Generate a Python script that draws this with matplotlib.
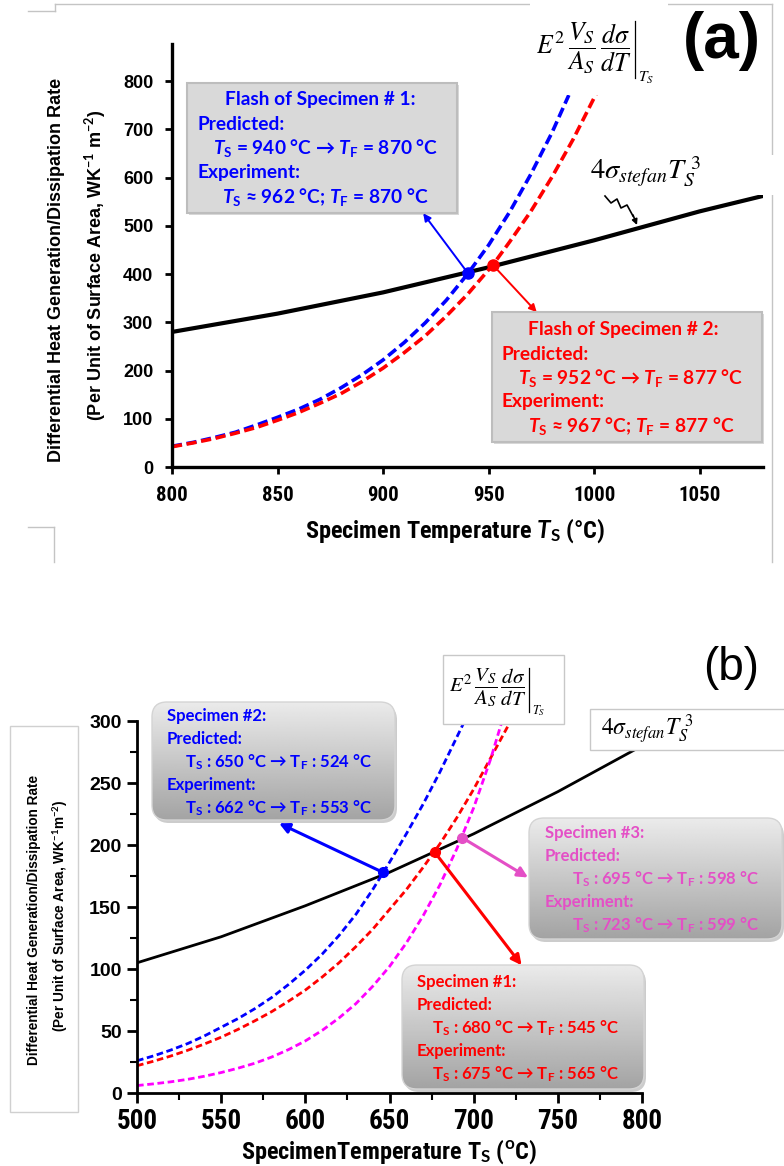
import numpy as np
import matplotlib
matplotlib.use("Agg")
import matplotlib.pyplot as plt
from matplotlib import font_manager as fm
from matplotlib.patches import FancyBboxPatch, Rectangle

# ---- panel (a) data: specimen temperature (C) vs W K^-1 m^-2 ----
T_A_RAD = [800, 850, 900, 950, 1000, 1050, 1080]
V_A_RAD = [280, 318, 362, 414, 470, 530, 562]
T_A_S1 = [800, 810, 820, 830, 840, 850, 860, 870, 880, 890, 900, 910, 920,
          930, 940, 950, 960, 970, 980, 988]
V_A_S1 = [43, 51, 61, 72, 87, 103, 120, 140, 164, 191, 222, 258, 299,
          346, 400, 460, 529, 607, 693, 771]
T_A_S2 = [800, 810, 820, 830, 840, 850, 860, 870, 880, 890, 900, 910, 920,
          930, 940, 952, 960, 970, 980, 990, 1001]
V_A_S2 = [42, 50, 59, 70, 82, 97, 113, 132, 152, 177, 205, 237, 272,
          313, 358, 419, 467, 530, 601, 679, 774]
FLASH_A_T = [940, 952]
FLASH_A_V = [403, 419]

# ---- panel (b) data ----
T_B_RAD = [500, 550, 600, 650, 700, 750, 800]
V_B_RAD = [105, 126, 151, 178, 209, 243, 280]
T_B_S2 = [500, 510, 520, 530, 540, 550, 560, 570, 580, 590, 600, 610, 620,
          630, 640, 650, 660, 670, 680, 690, 700]
V_B_S2 = [26, 30, 34.6, 39.8, 46, 53, 60, 68, 77, 87.5, 99, 112, 127,
          144, 164, 186, 209, 233, 259, 287, 315]
T_B_S1 = [500, 510, 520, 530, 540, 550, 560, 570, 580, 590, 600, 610, 620,
          630, 640, 650, 660, 670, 680, 690, 700, 710, 720, 725]
V_B_S1 = [22, 25.7, 29.8, 34.4, 39.5, 45, 51.3, 58.2, 65.6, 74, 83, 93.5, 105,
          118, 132, 148, 164, 182, 201, 222, 245, 270, 295, 308]
T_B_S3 = [500, 510, 520, 530, 540, 550, 560, 570, 580, 590, 600, 610, 620,
          630, 640, 650, 660, 670, 680, 690, 700, 710, 720]
V_B_S3 = [6, 7.4, 9, 11, 13.5, 16.5, 20, 24, 29, 35, 42, 50.5, 60.5,
          72, 86, 102, 121, 143, 168, 197, 230, 269, 314]
FLASH_B_T = [646, 677, 693]
FLASH_B_V = [178, 194, 206]

BLUE, RED, PINK, MAG = "#0000ff", "#ff0000", "#e44fc6", "#ff00ff"
BOXFONT = ["Lato", "DejaVu Sans"]

plt.rcParams["mathtext.fontset"] = "custom"
plt.rcParams["mathtext.rm"] = "Lato:bold"
plt.rcParams["mathtext.it"] = "Lato:bold:italic"
plt.rcParams["mathtext.bf"] = "Lato:bold"


def narrow_font(size):
    # pick a condensed bold sans if one is installed
    cands = [f for f in fm.fontManager.ttflist
             if f.style == "normal" and f.weight in ("bold", 700)
             and ("Narrow" in f.name or "Condensed" in f.name
                  or str(f.stretch) in ("condensed", "semi-condensed", "extra-condensed"))]
    order = ["Liberation", "Arial", "Roboto", "Open Sans", "Noto Sans", "DejaVu"]
    cands.sort(key=lambda f: next((i for i, k in enumerate(order) if k in f.name), 99))
    if cands:
        return fm.FontProperties(fname=cands[0].fname, size=size)
    return fm.FontProperties(family="Liberation Sans", weight="bold", size=size)


W, H = 784, 1166
fig = plt.figure(figsize=(W / 100, H / 100), dpi=100)


def px_axes(x0, y0, x1, y1):
    return fig.add_axes([x0 / W, 1 - y1 / H, (x1 - x0) / W, (y1 - y0) / H])


# ================= panel (a) =================
ax1 = px_axes(172, 44, 763, 467)
ax1.plot(T_A_RAD, V_A_RAD, color="black", lw=3)
ax1.plot(T_A_S1, V_A_S1, color=BLUE, lw=2.6, dashes=(2.8, 1.3))
ax1.plot(T_A_S2, V_A_S2, color=RED, lw=2.6, dashes=(2.8, 1.3))
ax1.plot(FLASH_A_T[0], FLASH_A_V[0], "o", color=BLUE, ms=8, zorder=5)
ax1.plot(FLASH_A_T[1], FLASH_A_V[1], "o", color=RED, ms=8, zorder=5)
ax1.annotate("", xy=(919, 526), xytext=(FLASH_A_T[0], FLASH_A_V[0]),
             arrowprops=dict(arrowstyle="-|>", color=BLUE, lw=1.4,
                             mutation_scale=11, shrinkA=0, shrinkB=0))
ax1.annotate("", xy=(972.8, 321), xytext=(FLASH_A_T[1], FLASH_A_V[1]),
             arrowprops=dict(arrowstyle="-|>", color=RED, lw=1.4,
                             mutation_scale=11, shrinkA=0, shrinkB=0))
ax1.set_xlim(800, 1080)
ax1.set_ylim(0, 877)
for s in ("top", "right"):
    ax1.spines[s].set_visible(False)
for s in ("left", "bottom"):
    ax1.spines[s].set_linewidth(2.4)
ax1.set_yticks(range(0, 801, 100), labels=[str(v) for v in range(0, 801, 100)],
               fontfamily="Liberation Sans", fontweight="bold", fontsize=13)
ax1.set_xticks(range(800, 1051, 50), labels=[str(v) for v in range(800, 1051, 50)],
               fontproperties=narrow_font(15))
ax1.tick_params(direction="out", length=5, width=2, pad=8.5)

# ================= panel (b) =================
ax2 = px_axes(137, 721, 642, 1093)
ax2.plot(T_B_RAD, V_B_RAD, color="black", lw=2)
ax2.plot(T_B_S2, V_B_S2, color=BLUE, lw=2, dashes=(2.4, 1.3))
ax2.plot(T_B_S1, V_B_S1, color=RED, lw=2, dashes=(2.4, 1.3))
ax2.plot(T_B_S3, V_B_S3, color=MAG, lw=2, dashes=(2.4, 1.3))
for t, v, c in zip(FLASH_B_T, FLASH_B_V, [BLUE, RED, PINK]):
    ax2.plot(t, v, "o", color=c, ms=7, zorder=5)
arrow_b = dict(arrowstyle="-|>", lw=2.2, mutation_scale=15, shrinkA=0, shrinkB=0)
ax2.annotate("", xy=(584.4, 217.5), xytext=(FLASH_B_T[0], FLASH_B_V[0]),
             arrowprops=dict(color=BLUE, **arrow_b))
ax2.annotate("", xy=(728.5, 103), xytext=(FLASH_B_T[1], FLASH_B_V[1]),
             arrowprops=dict(color=RED, **arrow_b))
ax2.annotate("", xy=(732.3, 173.8), xytext=(FLASH_B_T[2], FLASH_B_V[2]),
             arrowprops=dict(color=PINK, **arrow_b))
ax2.set_xlim(500, 800)
ax2.set_ylim(0, 300)
for s in ("top", "right"):
    ax2.spines[s].set_visible(False)
for s in ("left", "bottom"):
    ax2.spines[s].set_linewidth(2)
ax2.set_yticks(range(0, 301, 50), labels=[str(v) for v in range(0, 301, 50)],
               fontfamily="Liberation Sans", fontweight="bold", fontsize=14)
ax2.set_xticks(range(500, 801, 50), labels=[str(v) for v in range(500, 801, 50)],
               fontproperties=narrow_font(19.5))
ax2.set_yticks(range(25, 300, 50), minor=True)
ax2.set_xticks(range(525, 800, 50), minor=True)
ax2.tick_params(which="major", direction="out", length=7, width=2, pad=4)
ax2.tick_params(which="minor", direction="out", length=5, width=1.5)

# ================= overlay in pixel coordinates =================
ov = fig.add_axes([0, 0, 1, 1])
ov.set_zorder(10)
ov.patch.set_alpha(0)
ov.axis("off")
ov.set_autoscale_on(False)
ov.set_xlim(0, W)
ov.set_ylim(H, 0)
renderer = fig.canvas.get_renderer()

# faint page frame around (a)
fc = "#c4c4c4"
for xs, ys in [([55, 772], [3.5, 3.5]), ([772, 772], [3.5, 562]),
               ([28, 55], [11, 11]), ([55, 55], [3.5, 11]),
               ([28, 54], [527, 527]), ([54, 54], [527, 562])]:
    ov.plot(xs, ys, color=fc, lw=1, zorder=1)


def flat_box(x0, y0, x1, y1):
    ov.add_patch(Rectangle((x0 + 2, y0 + 2), x1 - x0, y1 - y0, fc="#000000",
                           alpha=0.15, ec="none", zorder=2))
    ov.add_patch(Rectangle((x0, y0), x1 - x0, y1 - y0, fc="#d9d9d9",
                           ec="#bdbdbd", lw=1.5, zorder=3))


def grad_box(x0, y0, x1, y1, r=15):
    w, h = x1 - x0, y1 - y0
    style = f"round,pad=0,rounding_size={r}"
    ov.add_patch(FancyBboxPatch((x0 + 2, y0 + 3), w, h, boxstyle=style,
                                fc="#000000", alpha=0.2, ec="none", zorder=2))
    box = FancyBboxPatch((x0, y0), w, h, boxstyle=style, fc="none",
                         ec="#d4d4d4", lw=1, zorder=4)
    ov.add_patch(box)
    grad = np.linspace(0.92, 0.64, 120).reshape(-1, 1)
    im = ov.imshow(grad, cmap="gray", vmin=0, vmax=1, aspect="auto",
                   extent=[x0, x1, y1, y0], zorder=3, interpolation="bilinear")
    im.set_clip_path(box)


def box_lines(lines, xs, y0, dy, color, size):
    for i, (s, x) in enumerate(zip(lines, xs)):
        ov.text(x, y0 + i * dy, s, color=color, fontsize=size, fontweight="bold",
                family=BOXFONT, ha="left", va="center", zorder=6)


def formula(x, y, size):
    # E^2 (V/A) dsigma/dT |_Ts, with a thin evaluation bar
    t = ov.text(x, y, r"$E^2\,\dfrac{V_S}{A_S}\,\dfrac{d\sigma}{dT}$",
                math_fontfamily="stix", fontsize=size, ha="left", va="center",
                zorder=6)
    bb = t.get_window_extent(renderer)
    xb, top, bot = bb.x1 + size * 0.2, H - bb.y1, H - bb.y0
    ov.plot([xb, xb], [top + 1, bot + size * 0.15], color="black", lw=0.9,
            zorder=6)
    ov.text(xb + size * 0.15, bot + size * 0.1, r"$T_S$", math_fontfamily="stix",
            fontsize=size * 0.6, ha="left", va="center", zorder=6)


STEFAN = r"$4\sigma_{stefan}T_S^{\ 3}$"

# (a) boxes
flat_box(187, 83, 457, 213)
box_lines(["Flash of Specimen # 1:", "Predicted:",
           r"$T_{\rm S}$ = 940 °C → $T_{\rm F}$ = 870 °C", "Experiment:",
           r"$T_{\rm S}$ ≈ 962 °C; $T_{\rm F}$ = 870 °C"],
          [225, 198, 213, 198, 222], 100, 24.2, BLUE, 13.8)
flat_box(492, 312, 762, 442)
box_lines(["Flash of Specimen # 2:", "Predicted:",
           r"$T_{\rm S}$ = 952 °C → $T_{\rm F}$ = 877 °C", "Experiment:",
           r"$T_{\rm S}$ ≈ 967 °C; $T_{\rm F}$ = 877 °C"],
          [528, 502, 518, 502, 528], 330, 24, RED, 13.8)

# (a) formula labels
ov.add_patch(Rectangle((530, 0), 138, 95, fc="white", ec="none", zorder=2))
formula(536, 48, 18.5)
ov.add_patch(Rectangle((585, 155), 199, 40, fc="white", ec="none", zorder=2))
ov.text(590, 172, STEFAN, math_fontfamily="stix", fontsize=20.5,
        ha="left", va="center", zorder=6)
ov.plot([605, 611, 617, 621, 627, 633], [196, 203, 199, 208, 205, 216],
        color="black", lw=1.2, zorder=6)
ov.annotate("", xy=(637, 225), xytext=(633, 215),
            arrowprops=dict(arrowstyle="-|>", color="black", lw=1.2,
                            mutation_scale=8, shrinkA=0, shrinkB=0), zorder=6)
ov.text(722, 41, "(a)", fontsize=46, fontweight="bold", family="Liberation Sans",
        ha="center", va="center", zorder=6)

# (a) axis labels
ov.text(57, 270, "Differential Heat Generation/Dissipation Rate", rotation=90,
        fontsize=13, fontweight="bold", family="Liberation Sans",
        ha="center", va="center", zorder=6)
ov.text(95, 265, r"(Per Unit of Surface Area, WK$^{-1}$ m$^{-2}$)", rotation=90,
        fontsize=13, fontweight="bold", family="Liberation Sans",
        ha="center", va="center", zorder=6)
ov.text(455, 531, r"Specimen Temperature $T_{\rm S}$ (°C)",
        fontproperties=narrow_font(17.5), ha="center", va="center", zorder=6)

# (b) boxes
grad_box(152, 702, 395, 820)
box_lines(["Specimen #2:", "Predicted:",
           r"T$_{\rm S}$ : 650 °C → T$_{\rm F}$ : 524 °C", "Experiment:",
           r"T$_{\rm S}$ : 662 °C → T$_{\rm F}$ : 553 °C"],
          [167, 167, 185, 167, 185], 716, 23.1, BLUE, 12)
grad_box(529, 818, 782, 939)
box_lines(["Specimen #3:", "Predicted:",
           r"T$_{\rm S}$ : 695 °C → T$_{\rm F}$ : 598 °C", "Experiment:",
           r"T$_{\rm S}$ : 723 °C → T$_{\rm F}$ : 599 °C"],
          [545, 545, 572, 545, 572], 833, 23.1, PINK, 12)
grad_box(402, 965, 644, 1089)
box_lines(["Specimen #1:", "Predicted:",
           r"T$_{\rm S}$ : 680 °C → T$_{\rm F}$ : 545 °C", "Experiment:",
           r"T$_{\rm S}$ : 675 °C → T$_{\rm F}$ : 565 °C"],
          [417, 417, 432, 417, 432], 982, 23.1, RED, 12)

# (b) formula labels
ov.add_patch(Rectangle((443, 655), 121, 69, fc="white", ec="#c8c8c8", lw=1, zorder=2))
formula(449, 688, 15)
ov.add_patch(Rectangle((590, 709), 200, 41, fc="white", ec="#c8c8c8", lw=1, zorder=2))
ov.text(601, 729, STEFAN, math_fontfamily="stix", fontsize=17,
        ha="left", va="center", zorder=6)
ov.text(731, 668, "(b)", fontsize=33, family="Liberation Sans",
        ha="center", va="center", zorder=6)

# (b) axis labels
ov.add_patch(Rectangle((10, 726), 68, 386, fc="white", ec="#d0d0d0", lw=1, zorder=2))
ov.text(34, 920, "Differential Heat Generation/Dissipation Rate", rotation=90,
        fontsize=9.8, fontweight="bold", family="Liberation Sans",
        ha="center", va="center", zorder=6)
ov.text(61, 916, r"(Per Unit of Surface Area, WK$^{-1}$m$^{-2}$)", rotation=90,
        fontsize=9.8, fontweight="bold", family="Liberation Sans",
        ha="center", va="center", zorder=6)
ov.text(389, 1152, r"SpecimenTemperature T$_{\rm S}$ ($^{\rm o}$C)",
        fontproperties=narrow_font(17.5), ha="center", va="center", zorder=6)

fig.savefig("out.png", dpi=100)
